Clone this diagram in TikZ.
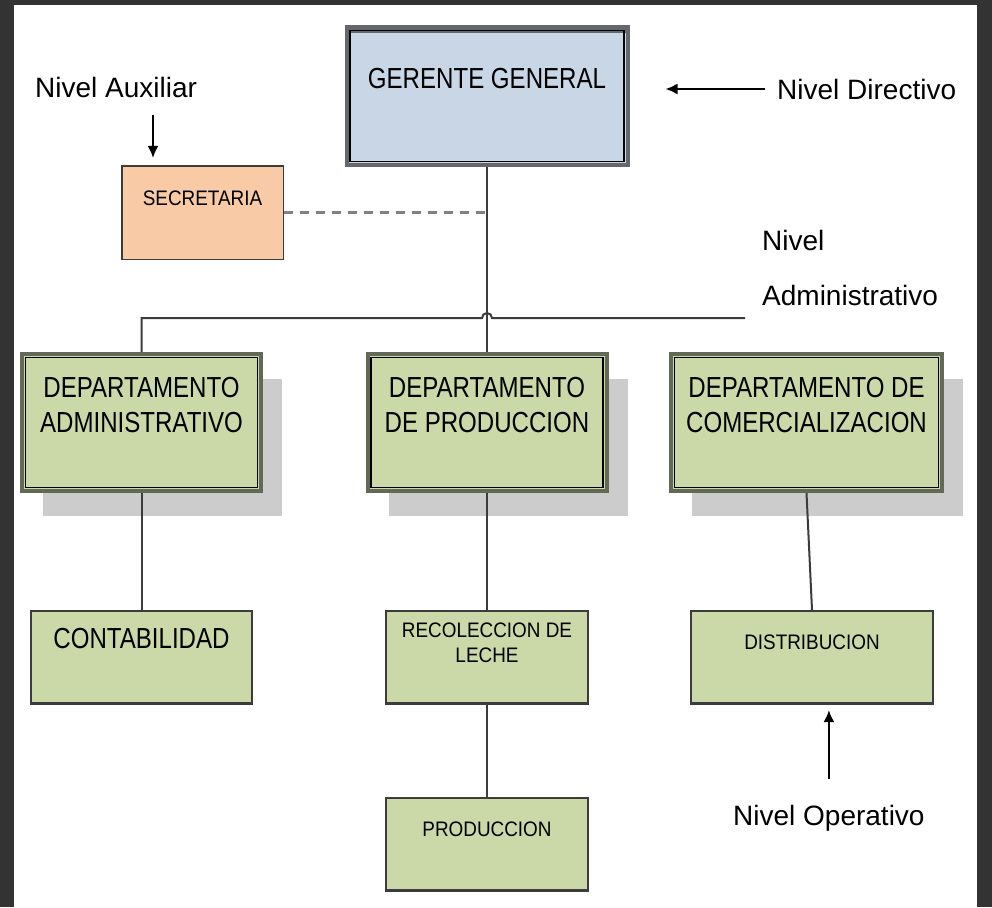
\documentclass[tikz,border=0pt]{standalone}
\usepackage{fontspec}
\setmainfont{Liberation Sans}
\newfontfamily\bigboxfont[FakeStretch=0.83]{Liberation Sans}
\newfontfamily\smallboxfont[FakeStretch=0.9]{Liberation Sans}
\usetikzlibrary{arrows.meta,shadows}

\definecolor{framegray}{RGB}{51,51,51}
\definecolor{headfill}{RGB}{201,214,229}
\definecolor{headline}{RGB}{100,104,110}
\definecolor{deptfill}{RGB}{203,217,168}
\definecolor{deptline}{RGB}{98,106,86}
\definecolor{auxfill}{RGB}{248,203,166}
\definecolor{shadowgray}{RGB}{204,204,204}
\definecolor{wiregray}{RGB}{60,60,60}

\tikzset{
  bigtext/.style={font=\bigboxfont\fontsize{29}{35}\selectfont, align=center, inner sep=0pt},
  smalltext/.style={font=\smallboxfont\fontsize{21}{25}\selectfont, align=center, inner sep=0pt},
  lvltext/.style={font=\fontsize{28}{55}\selectfont, inner sep=0pt},
  headbox/.style={draw=headline, fill=headfill, line width=4pt, inner sep=0pt},
  deptbox/.style={draw=deptline, fill=deptfill, line width=4pt, inner sep=0pt,
    drop shadow={shadow xshift=21pt, shadow yshift=-25pt, fill=shadowgray, opacity=1}},
  unitbox/.style={draw=wiregray, fill=deptfill, line width=1.8pt, inner sep=0pt},
  auxbox/.style={draw=wiregray, fill=auxfill, line width=1.6pt, inner sep=0pt},
  innerframe/.style={draw=black, line width=1.5pt},
  wire/.style={draw=wiregray, line width=2pt},
  staffwire/.style={draw=gray, line width=3.5pt, dash pattern=on 9pt off 7pt},
  lvlarrow/.style={draw=black, line width=2pt, -{Latex[length=12pt,width=11pt]}},
}

\begin{document}
\begin{tikzpicture}[x=1pt,y=-1pt]
  \useasboundingbox (0,0) rectangle (992,907);
  \fill[framegray] (0,0) rectangle (992,907);
  \fill[white] (14,5) rectangle (977,907);

  % top level and staff
  \node[headbox, minimum width=281pt, minimum height=138pt,
    label={[bigtext, anchor=north, yshift=-43pt]north:GERENTE GENERAL}] (gerente) at (487,96) {};
  \draw[headline, line width=8pt] ([yshift=-4pt]gerente.north west) -- ([yshift=-4pt]gerente.north east);
  \node[auxbox, minimum width=161.6pt, minimum height=93.6pt,
    label={[smalltext, anchor=north, yshift=-26pt]north:SECRETARIA}] (secre) at (202.5,212.5) {};

  % departments
  \node[deptbox, minimum width=239pt, minimum height=137pt,
    label={[bigtext, anchor=north, yshift=-25pt]north:DEPARTAMENTO\\ADMINISTRATIVO}] (admin) at (141.5,422.5) {};
  \node[deptbox, minimum width=239pt, minimum height=137pt,
    label={[bigtext, anchor=north, yshift=-25pt]north:DEPARTAMENTO\\DE PRODUCCION}] (prod) at (487,422.5) {};
  \node[deptbox, minimum width=271pt, minimum height=137pt,
    label={[bigtext, anchor=north, yshift=-25pt]north:DEPARTAMENTO DE\\COMERCIALIZACION}] (comer) at (806.5,422.5) {};
  \foreach \n in {gerente,admin,prod,comer}
    \draw[innerframe] ([shift={(5.5pt,-5.5pt)}]\n.north west) rectangle ([shift={(-5.5pt,5.5pt)}]\n.south east);

  % units
  \node[unitbox, minimum width=221.4pt, minimum height=93.4pt,
    label={[bigtext, anchor=north, yshift=-18pt]north:CONTABILIDAD}] (conta) at (141.5,657.5) {};
  \node[unitbox, minimum width=202.4pt, minimum height=93.4pt,
    label={[smalltext, anchor=north, yshift=-13pt]north:RECOLECCION DE\\LECHE}] (recol) at (487,657.5) {};
  \node[unitbox, minimum width=242.4pt, minimum height=93.4pt,
    label={[smalltext, anchor=north, yshift=-25pt]north:DISTRIBUCION}] (distrib) at (812,657.5) {};
  \node[unitbox, minimum width=202.4pt, minimum height=93.4pt,
    label={[smalltext, anchor=north, yshift=-25pt]north:PRODUCCION}] (produc) at (487,844.5) {};
  \foreach \n in {conta,recol,distrib,produc}
    \draw[wiregray, line width=3.5pt] ([yshift=1.5pt]\n.south west) -- ([yshift=1.5pt]\n.south east);

  % connectors
  \coordinate (hopl) at (482,318);
  \coordinate (busend) at (745,318);
  \draw[wire] (gerente.south) -- (prod.north);
  \draw[wire] (admin.north) |- (hopl) arc[start angle=180, end angle=0, radius=5pt] -- (busend);
  \draw[staffwire] (secre.east) -- (secre.east -| gerente.south);
  \draw[wire] (admin.south) -- (conta.north);
  \draw[wire] (prod.south) -- (recol.north);
  \draw[wire] (recol.south) -- (produc.north);
  \draw[wire] (comer.south) -- (distrib.north);

  % levels
  \node[lvltext, anchor=base west] (auxlbl) at (35,97) {Nivel Auxiliar};
  \node[lvltext, anchor=base west] (dirlbl) at (777,99) {Nivel Directivo};
  \node[lvltext, anchor=north west, align=left] (admlbl) at (762,230) {Nivel\\Administrativo};
  \node[lvltext, anchor=base west] (oplbl) at (733,825) {Nivel Operativo};
  \coordinate (auxtail) at (153,115);
  \draw[lvlarrow, shorten >=7pt] (auxtail) -- (auxtail |- secre.north);
  \draw[lvlarrow, shorten >=36pt] ([xshift=-12pt]dirlbl.west) -- (dirlbl.west -| gerente.east);
  \draw[lvlarrow, shorten >=5pt] ([yshift=26pt]oplbl.north) -- (oplbl.north |- distrib.south);
\end{tikzpicture}
\end{document}
